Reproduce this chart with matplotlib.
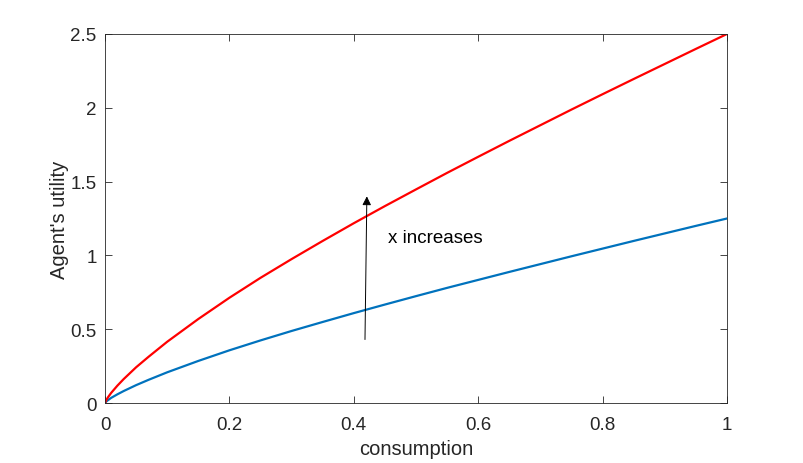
import matplotlib
matplotlib.use("Agg")
import matplotlib.pyplot as plt

# values
consumption = [0, 0.002, 0.005, 0.01, 0.02, 0.03, 0.05, 0.07, 0.1, 0.15, 0.2, 0.25, 0.3, 0.35,
               0.4, 0.45, 0.5, 0.55, 0.6, 0.65, 0.7, 0.75, 0.8, 0.85, 0.9, 0.95, 1.0]
utility_high = [0, 0.020, 0.040, 0.069, 0.118, 0.162, 0.242, 0.313, 0.415, 0.569, 0.713, 0.848,
                0.975, 1.098, 1.218, 1.334, 1.447, 1.559, 1.668, 1.776, 1.882, 1.988, 2.092,
                2.195, 2.297, 2.399, 2.5]
utility_low = [0, 0.010, 0.020, 0.035, 0.059, 0.081, 0.121, 0.157, 0.208, 0.285, 0.357, 0.424,
               0.488, 0.549, 0.609, 0.667, 0.724, 0.780, 0.834, 0.888, 0.941, 0.994, 1.046,
               1.098, 1.149, 1.200, 1.25]

arrow_start = (0.418, 0.43)
arrow_end = (0.421, 1.40)
note_pos = (0.455, 1.12)

plt.rcParams["font.family"] = ["Liberation Sans", "DejaVu Sans"]

fig = plt.figure(figsize=(8.04, 4.64), dpi=100)
ax = fig.add_axes([0.1306, 0.1293, 0.7736, 0.7953])

ax.plot(consumption, utility_low, color="#0072BD", lw=1.6)
ax.plot(consumption, utility_high, color="#FF0000", lw=1.6)

ax.annotate("", xy=arrow_end, xytext=arrow_start,
            arrowprops=dict(arrowstyle="-|>", color="black", lw=0.7,
                            mutation_scale=13, shrinkA=0, shrinkB=0))
ax.text(note_pos[0], note_pos[1], "x increases", fontsize=13.5, color="black",
        ha="left", va="center")

ax.set_xlim(0, 1)
ax.set_ylim(0, 2.5)
ax.set_xticks([0, 0.2, 0.4, 0.6, 0.8, 1])
ax.set_xticklabels(["0", "0.2", "0.4", "0.6", "0.8", "1"])
ax.set_yticks([0, 0.5, 1, 1.5, 2, 2.5])
ax.set_yticklabels(["0", "0.5", "1", "1.5", "2", "2.5"])
ax.tick_params(direction="in", top=True, right=True, length=5, width=0.6,
               labelsize=13.5, labelcolor="#262626", color="#262626")
ax.tick_params(axis="x", pad=9)
ax.tick_params(axis="y", pad=6)
for s in ax.spines.values():
    s.set_linewidth(0.6)
    s.set_color("#262626")

ax.set_xlabel("consumption", fontsize=14.5, color="#262626", labelpad=5)
ax.set_ylabel("Agent's utility", fontsize=14.5, color="#262626", labelpad=1)

fig.savefig("out.png", dpi=100)
